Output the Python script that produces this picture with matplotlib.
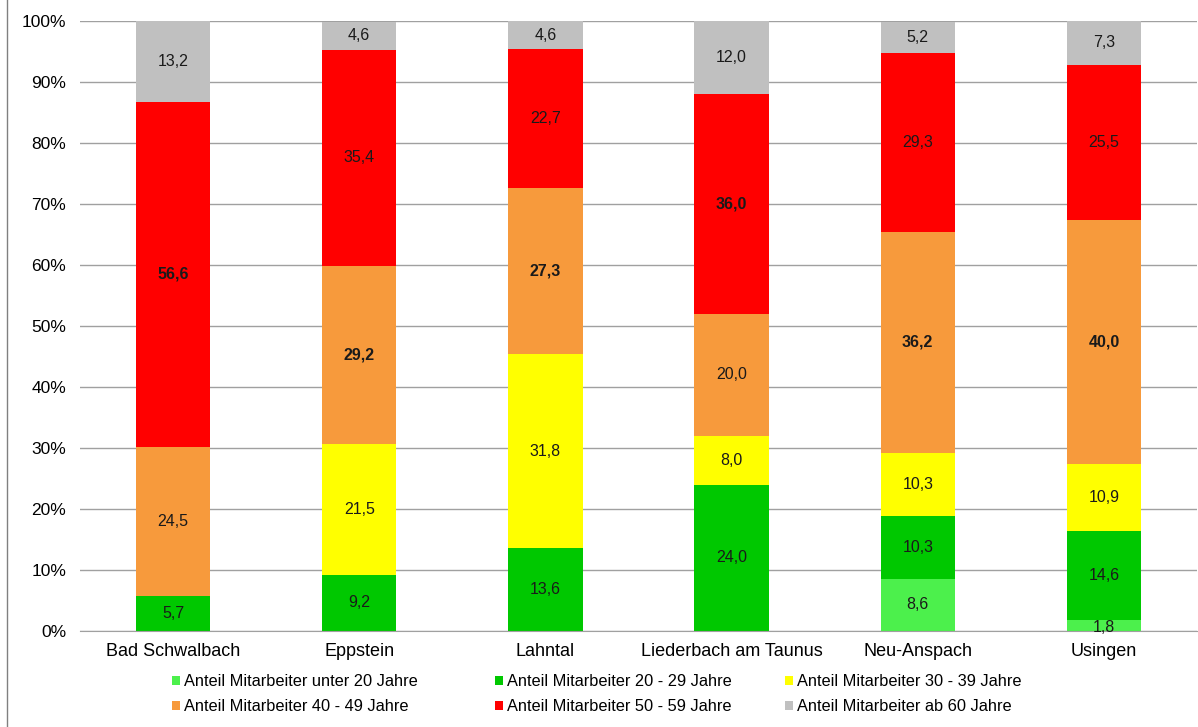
import numpy as np
import matplotlib.pyplot as plt

plt.rcParams["font.family"] = ["Liberation Sans", "DejaVu Sans"]

# Daten (Anteile in %)
orte = ["Bad Schwalbach", "Eppstein", "Lahntal", "Liederbach am Taunus",
        "Neu-Anspach", "Usingen"]
unter20 = [0.0, 0.0, 0.0, 0.0, 8.6, 1.8]
j20_29 = [5.7, 9.2, 13.6, 24.0, 10.3, 14.6]
j30_39 = [0.0, 21.5, 31.8, 8.0, 10.3, 10.9]
j40_49 = [24.5, 29.2, 27.3, 20.0, 36.2, 40.0]
j50_59 = [56.6, 35.4, 22.7, 36.0, 29.3, 25.5]
ab60 = [13.2, 4.6, 4.6, 12.0, 5.2, 7.3]

serien = [
    ("Anteil Mitarbeiter unter 20 Jahre", unter20, "#4cf04c"),
    ("Anteil Mitarbeiter 20 - 29 Jahre", j20_29, "#00c800"),
    ("Anteil Mitarbeiter 30 - 39 Jahre", j30_39, "#ffff00"),
    ("Anteil Mitarbeiter 40 - 49 Jahre", j40_49, "#f79a3c"),
    ("Anteil Mitarbeiter 50 - 59 Jahre", j50_59, "#ff0000"),
    ("Anteil Mitarbeiter ab 60 Jahre", ab60, "#c0c0c0"),
]

# fett gedruckte Werte (Serie, Ort)
fett = {(3, 1), (3, 2), (3, 5), (3, 4), (4, 0), (4, 3)}

W, H = 1198, 727
fig = plt.figure(figsize=(W / 100, H / 100), dpi=100)
ax = fig.add_axes([80 / W, 1 - 631 / H, 1117 / W, 610 / H])

x = np.arange(len(orte))
unten = np.zeros(len(orte))
for s, (name, werte, farbe) in enumerate(serien):
    werte = np.array(werte)
    ax.bar(x, werte, width=0.4, bottom=unten, color=farbe, label=name, zorder=2)
    for i, v in enumerate(werte):
        if v <= 0:
            continue
        y = unten[i] + v / 2
        if v < 3:
            y = unten[i] + v / 2 - 0.3
        ax.text(x[i], y, f"{v:.1f}".replace(".", ","), ha="center", va="center",
                fontsize=11.5, color="#1a1a1a",
                fontweight="bold" if (s, i) in fett else "normal", zorder=3)
    unten += werte

ax.set_xlim(-0.5, len(orte) - 0.5)
ax.set_ylim(0, 100)
ax.set_yticks(np.arange(0, 101, 10))
ax.set_yticklabels([f"{t}%" for t in range(0, 101, 10)], fontsize=12.5)
ax.set_xticks(x)
ax.set_xticklabels(orte, fontsize=13)
ax.tick_params(axis="both", length=0, pad=9)
ax.tick_params(axis="y", pad=10)
ax.grid(axis="y", color="#a0a0a0", linewidth=1, zorder=0)
for sp in ["left", "right", "top"]:
    ax.spines[sp].set_visible(False)
ax.spines["bottom"].set_color("#a0a0a0")

# Legende zeilenweise wie im Original: drei Spalten mit je zwei Einträgen
h, l = ax.get_legend_handles_labels()
spalten = [(0, 3, 172), (1, 4, 495), (2, 5, 785)]
for a, b, xpix in spalten:
    leg = fig.legend([h[a], h[b]], [l[a], l[b]], loc="upper left",
                     bbox_to_anchor=(xpix / W, 1 - 674 / H), frameon=False,
                     fontsize=11.8, handlelength=0.5, handleheight=0.5,
                     handletextpad=0.25, labelspacing=0.62, borderpad=0,
                     borderaxespad=0)

fig.add_artist(plt.Line2D([7 / W, 7 / W], [0, 1], color="#808080", lw=1))

fig.savefig("out.png", dpi=100)
